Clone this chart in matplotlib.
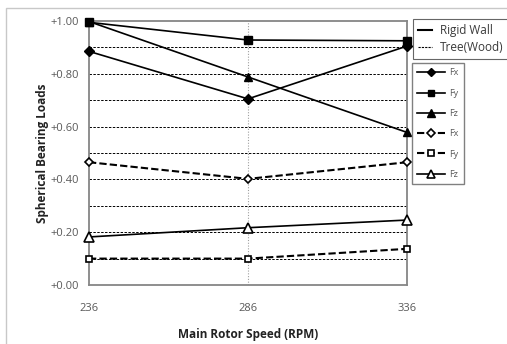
import matplotlib
matplotlib.use("Agg")
import matplotlib.pyplot as plt
from matplotlib.lines import Line2D
from matplotlib.patches import Rectangle

plt.rcParams['font.family'] = ['Open Sans', 'DejaVu Sans']

speeds = [236, 286, 336]
tick_labels = ["236", "286", "336"]
y_ticks = [0.0, 0.2, 0.4, 0.6, 0.8, 1.0]
y_tick_labels = ["+0.00", "+0.20", "+0.40", "+0.60", "+0.80", "+1.00"]

rigid_fx = [0.885, 0.705, 0.905]
rigid_fy = [0.995, 0.928, 0.925]
rigid_fz = [0.998, 0.788, 0.578]
tree_fx = [0.465, 0.402, 0.465]
tree_fy = [0.100, 0.100, 0.137]
tree_fz = [0.182, 0.217, 0.246]

W, H = 507, 344
fig = plt.figure(figsize=(W / 100, H / 100), dpi=100)
fig.patch.set_facecolor('white')

# outer chart border
fig.patches.append(Rectangle((6 / W, -0.01), 1.05, 1 - 8 / H + 0.01, transform=fig.transFigure,
                             fill=False, edgecolor='#c8c8c8', linewidth=1.0))

ax = fig.add_axes([89 / W, 1 - 285 / H, (407 - 89) / W, (285 - 21) / H])
ax.set_xlim(236, 336)
ax.set_ylim(0, 1.0)

for v in [0.1, 0.2, 0.3, 0.4, 0.5, 0.6, 0.7, 0.8, 0.9]:
    ax.axhline(v, color='black', linestyle=(0, (2.5, 1.5)), linewidth=0.7, zorder=1)
ax.axvline(286, color='#a0a0a0', linestyle=(0, (1, 1.5)), linewidth=0.8, zorder=1)

for s in ax.spines.values():
    s.set_color('#868686')
    s.set_linewidth(1.3)

ax.set_xticks(speeds)
ax.set_xticklabels(tick_labels)
ax.set_yticks(y_ticks)
ax.set_yticklabels(y_tick_labels)
ax.tick_params(axis='both', length=0, labelsize=8, labelcolor='#595959')
ax.tick_params(axis='x', pad=13)
ax.tick_params(axis='y', pad=7)

kw_solid = dict(color='black', linewidth=1.2, zorder=3, clip_on=False)
kw_dash = dict(color='black', linewidth=1.5, linestyle=(0, (3.5, 1.5)), zorder=3, clip_on=False)

h1, = ax.plot(speeds, rigid_fx, marker='D', markersize=4.6, markerfacecolor='black', **kw_solid)
h2, = ax.plot(speeds, rigid_fy, marker='s', markersize=5.2, markerfacecolor='black', **kw_solid)
h3, = ax.plot(speeds, rigid_fz, marker='^', markersize=6, markerfacecolor='black', **kw_solid)
h4, = ax.plot(speeds, tree_fx, marker='D', markersize=4.4, markerfacecolor='white',
              markeredgewidth=1.2, **kw_dash)
h5, = ax.plot(speeds, tree_fy, marker='s', markersize=5, markerfacecolor='white',
              markeredgewidth=1.2, **kw_dash)
h6, = ax.plot(speeds, tree_fz, marker='^', markersize=6.5, markerfacecolor='white',
              markeredgewidth=1.2, **kw_solid)

ax.set_xlabel("Main Rotor Speed (RPM)", fontsize=8.5, fontweight='bold', color='#222222', labelpad=10)
ax.set_ylabel("Spherical Bearing Loads", fontsize=8.5, fontweight='bold', color='#222222', labelpad=1)

# legend 1: line styles
lh = [Line2D([], [], color='black', linewidth=1.5),
      Line2D([], [], color='black', linewidth=0.8, linestyle=(0, (2, 1)))]
leg1 = fig.legend(lh, ["Rigid Wall", "Tree(Wood)"], loc='upper left',
                  bbox_to_anchor=(413 / W, 1 - 19 / H), fontsize=8.5, frameon=True,
                  fancybox=False, edgecolor='#404040', handlelength=1.2, handletextpad=0.6,
                  borderpad=0.45, labelspacing=0.3, borderaxespad=0)
leg1.get_frame().set_linewidth(0.8)
for t in leg1.get_texts():
    t.set_color('#3a3a3a')

leg2 = fig.legend([h1, h2, h3, h4, h5, h6], ["Fx", "Fy", "Fz", "Fx", "Fy", "Fz"],
                  loc='upper left', bbox_to_anchor=(412 / W, 1 - 63 / H), fontsize=6.5,
                  frameon=True, fancybox=False, edgecolor='#606060', handlelength=3.1,
                  handletextpad=0.4, borderpad=0.6, labelspacing=1.25, borderaxespad=0,
                  markerscale=0.85)
leg2.get_frame().set_linewidth(1.0)
for t in leg2.get_texts():
    t.set_color('#595959')

fig.savefig("out.png", dpi=100, facecolor='white')
